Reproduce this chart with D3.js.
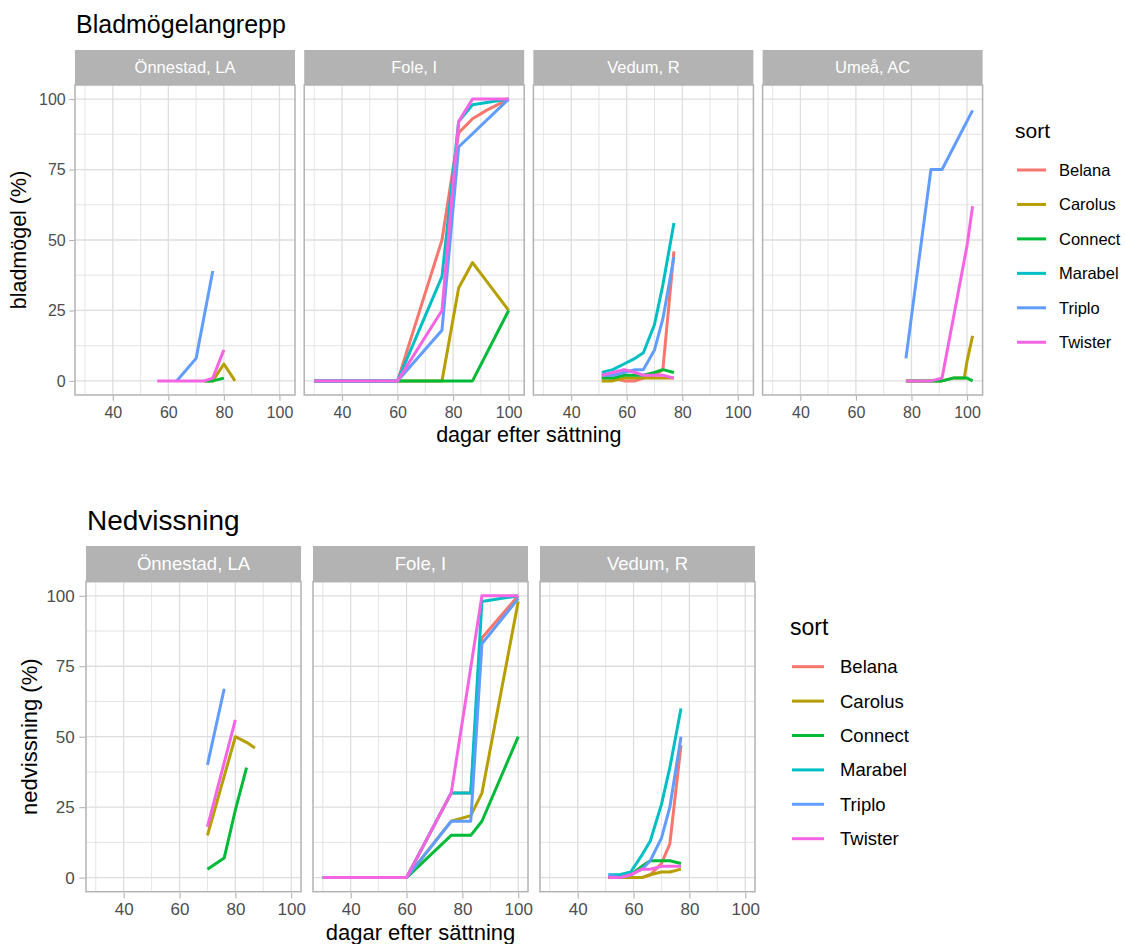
<!DOCTYPE html>
<html>
<head>
<meta charset="utf-8">
<script src="https://cdn.jsdelivr.net/npm/d3@7"></script>
<style>
  body { margin: 0; background: #fff; }
  svg { display: block; }
  text { font-family: "Liberation Sans", Arial, sans-serif; }
</style>
</head>
<body>
<svg id="chart" width="1126" height="944"></svg>
<script>
// Varieties and their colours (default ggplot hue palette)
const varieties = ["Belana", "Carolus", "Connect", "Marabel", "Triplo", "Twister"];
const varietyColors = ["#F8766D", "#B79F00", "#00BA38", "#00BFC4", "#619CFF", "#F564E3"];

// Axis breaks
const xTicks = [40, 60, 80, 100];
const xMinorTicks = [30, 50, 70, 90];
const yTicks = [0, 25, 50, 75, 100];
const yMinorTicks = [12.5, 37.5, 62.5, 87.5];

// ---- Bladmögelangrepp (% leaf blight) ----
const leafSites = ["Önnestad, LA", "Fole, I", "Vedum, R", "Umeå, AC"];

const leafOnnestadDays = [56, 63, 70, 73, 76, 80, 84];
const leafOnnestad = {
  Carolus: [null, null, null, 0, 0, 6, 0],
  Connect: [null, null, null, 0, 0, 1, null],
  Triplo:  [null, 0, 8, null, 39, null, null],
  Twister: [0, 0, 0, 0, 1, 11, null]
};

const leafFoleDays = [30, 60, 76, 82, 87, 92, 100];
const leafFole = {
  Belana:  [0, 0, 50, 88, 93, 96, 100],
  Carolus: [0, 0, 0, 33, 42, null, 25],
  Connect: [0, 0, 0, 0, 0, null, 25],
  Marabel: [0, 0, 37, 92, 98, null, 100],
  Triplo:  [0, 0, 18, 83, null, null, 100],
  Twister: [0, 0, 25, 92, 100, null, 100]
};

const leafVedumDays = [51, 55, 59, 63, 66, 70, 73, 77];
const leafVedum = {
  Belana:  [1, 1, 0, 0, 1, 2, 4, 46],
  Carolus: [0, 0, 1, 1, 1, 1, 1, 1],
  Connect: [1, 1, 2, 2, 2, 3, 4, 3],
  Marabel: [3, 4, 6, 8, 10, 20, 34, 56],
  Triplo:  [2, 2, 3, 4, 4, 11, 22, 44],
  Twister: [2, 3, 4, 3, 2, 2, 2, 1]
};

const leafUmeaDays = [78, 87, 91, 95, 99, 100, 102];
const leafUmea = {
  Carolus: [0, 0, 0, 1, 1, 7, 16],
  Connect: [0, 0, 0, 1, 1, 1, 0],
  Triplo:  [8, 75, 75, null, null, null, 96],
  Twister: [0, 0, 1, null, null, 48, 62]
};

// ---- Nedvissning (% haulm senescence) ----
const witherSites = ["Önnestad, LA", "Fole, I", "Vedum, R"];

const witherOnnestadDays = [70, 76, 80, 84, 87];
const witherOnnestad = {
  Carolus: [15, null, 50, 48, 46],
  Connect: [3, 7, 24, 39, null],
  Triplo:  [40, 67, null, null, null],
  Twister: [18, null, 56, null, null]
};

const witherFoleDays = [30, 60, 76, 83, 87, 100];
const witherFole = {
  Belana:  [0, 0, 30, 30, 85, 100],
  Carolus: [0, 0, 20, 22, 30, 98],
  Connect: [0, 0, 15, 15, 20, 50],
  Marabel: [0, 0, 30, 30, 98, 100],
  Triplo:  [0, 0, 20, 20, 83, 99],
  Twister: [0, 0, 30, null, 100, 100]
};

const witherVedumDays = [51, 55, 59, 63, 66, 70, 73, 77];
const witherVedum = {
  Belana:  [0, 0, 0, 0, 1, 5, 12, 47],
  Carolus: [0, 0, 0, 0, 1, 2, 2, 3],
  Connect: [0, 0, 1, 4, 6, 6, 6, 5],
  Marabel: [1, 1, 2, 8, 13, 26, 39, 60],
  Triplo:  [1, 0, 1, 3, 6, 14, 25, 50],
  Twister: [0, 0, 1, 3, 3, 4, 4, 4]
};

const leafPanels = [
  { site: leafSites[0], days: leafOnnestadDays, values: leafOnnestad },
  { site: leafSites[1], days: leafFoleDays, values: leafFole },
  { site: leafSites[2], days: leafVedumDays, values: leafVedum },
  { site: leafSites[3], days: leafUmeaDays, values: leafUmea }
];
const witherPanels = [
  { site: witherSites[0], days: witherOnnestadDays, values: witherOnnestad },
  { site: witherSites[1], days: witherFoleDays, values: witherFole },
  { site: witherSites[2], days: witherVedumDays, values: witherVedum }
];

const svg = d3.select("#chart");
const GRID = "#dedede", BORDER = "#b3b3b3", TICKTXT = "#4d4d4d";

function drawFacets(cfg) {
  const root = svg.append("g");
  const plotTop = cfg.stripTop + cfg.stripH;
  const plotBottom = plotTop + cfg.plotH;
  const y = d3.scaleLinear().domain([-5, 105]).range([plotBottom, plotTop]);
  const color = d3.scaleOrdinal().domain(varieties).range(varietyColors);

  // title
  root.append("text")
    .attr("x", cfg.titleX).attr("y", cfg.titleY)
    .attr("font-size", cfg.titleSize).attr("fill", "#000")
    .text(cfg.title);

  cfg.panels.forEach((p, i) => {
    const x0 = cfg.left + i * (cfg.panelW + cfg.gap);
    const x = d3.scaleLinear().domain(cfg.xDomain).range([x0, x0 + cfg.panelW]);
    const g = root.append("g");

    // strip
    g.append("rect")
      .attr("x", x0).attr("y", cfg.stripTop)
      .attr("width", cfg.panelW).attr("height", cfg.stripH)
      .attr("fill", "#b3b3b3");
    g.append("text")
      .attr("x", x0 + cfg.panelW / 2)
      .attr("y", cfg.stripTop + cfg.stripH / 2)
      .attr("dy", "0.35em")
      .attr("text-anchor", "middle")
      .attr("font-size", cfg.stripSize)
      .attr("fill", "#ffffff")
      .text(p.site);

    // grid
    const grid = g.append("g");
    grid.selectAll(".vmin").data(xMinorTicks).join("line")
      .attr("x1", d => x(d)).attr("x2", d => x(d))
      .attr("y1", plotTop).attr("y2", plotBottom)
      .attr("stroke", GRID).attr("stroke-width", 0.8);
    grid.selectAll(".hmin").data(yMinorTicks).join("line")
      .attr("x1", x0).attr("x2", x0 + cfg.panelW)
      .attr("y1", d => y(d)).attr("y2", d => y(d))
      .attr("stroke", GRID).attr("stroke-width", 0.8);
    grid.selectAll(".vmaj").data(xTicks).join("line")
      .attr("x1", d => x(d)).attr("x2", d => x(d))
      .attr("y1", plotTop).attr("y2", plotBottom)
      .attr("stroke", GRID).attr("stroke-width", 1.3);
    grid.selectAll(".hmaj").data(yTicks).join("line")
      .attr("x1", x0).attr("x2", x0 + cfg.panelW)
      .attr("y1", d => y(d)).attr("y2", d => y(d))
      .attr("stroke", GRID).attr("stroke-width", 1.3);

    // series lines
    const line = d3.line().x(d => x(d[0])).y(d => y(d[1]));
    varieties.forEach(v => {
      const vals = p.values[v];
      if (!vals) return;
      const pts = p.days.map((d, j) => [d, vals[j]]).filter(q => q[1] != null);
      g.append("path")
        .datum(pts)
        .attr("d", line)
        .attr("fill", "none")
        .attr("stroke", color(v))
        .attr("stroke-width", 3)
        .attr("stroke-linejoin", "round");
    });

    // panel border
    g.append("rect")
      .attr("x", x0).attr("y", plotTop)
      .attr("width", cfg.panelW).attr("height", cfg.plotH)
      .attr("fill", "none").attr("stroke", BORDER).attr("stroke-width", 1.5);

    // x axis
    const xa = g.append("g")
      .attr("transform", `translate(0,${plotBottom + 0.75})`)
      .call(d3.axisBottom(x).tickValues(xTicks).tickSize(cfg.tickLen).tickPadding(cfg.xPad).tickSizeOuter(0));
    xa.select(".domain").remove();
    xa.selectAll("line").attr("stroke", BORDER).attr("stroke-width", 1.1);
    xa.selectAll("text").attr("font-size", cfg.tickSize).attr("fill", TICKTXT)
      .attr("font-family", "Liberation Sans, Arial, sans-serif");

    // y axis on the first panel only
    if (i === 0) {
      const ya = g.append("g")
        .attr("transform", `translate(${x0 - 0.75},0)`)
        .call(d3.axisLeft(y).tickValues(yTicks).tickSize(cfg.tickLen).tickPadding(cfg.yPad).tickSizeOuter(0));
      ya.select(".domain").remove();
      ya.selectAll("line").attr("stroke", BORDER).attr("stroke-width", 1.1);
      ya.selectAll("text").attr("font-size", cfg.tickSize).attr("fill", TICKTXT)
        .attr("font-family", "Liberation Sans, Arial, sans-serif");
    }
  });

  // axis titles
  const right = cfg.left + cfg.panels.length * cfg.panelW + (cfg.panels.length - 1) * cfg.gap;
  root.append("text")
    .attr("x", (cfg.left + right) / 2).attr("y", cfg.xTitleY)
    .attr("text-anchor", "middle").attr("font-size", cfg.axisTitleSize).attr("fill", "#000")
    .text("dagar efter sättning");
  root.append("text")
    .attr("transform", `translate(${cfg.yTitleX},${(plotTop + plotBottom) / 2}) rotate(-90)`)
    .attr("text-anchor", "middle").attr("font-size", cfg.axisTitleSize).attr("fill", "#000")
    .text(cfg.yTitle);

  // legend
  const lg = root.append("g");
  lg.append("text")
    .attr("x", cfg.legendX).attr("y", cfg.legendTitleY)
    .attr("font-size", cfg.legendTitleSize).attr("fill", "#000")
    .text("sort");
  varieties.forEach((v, k) => {
    const yy = cfg.legendY0 + k * cfg.legendStep;
    lg.append("line")
      .attr("x1", cfg.legendX + 2).attr("x2", cfg.legendX + 2 + cfg.keyW)
      .attr("y1", yy).attr("y2", yy)
      .attr("stroke", color(v)).attr("stroke-width", 3);
    lg.append("text")
      .attr("x", cfg.legendLabelX).attr("y", yy).attr("dy", "0.35em")
      .attr("font-size", cfg.legendSize).attr("fill", "#000")
      .text(v);
  });
}

drawFacets({
  title: "Bladmögelangrepp", titleX: 76, titleY: 33, titleSize: 25,
  panels: leafPanels,
  left: 75, panelW: 220, gap: 9.2,
  stripTop: 50, stripH: 35, plotH: 310,
  xDomain: [26.4, 105.6],
  stripSize: 16.5, tickSize: 16, tickLen: 5, xPad: 5.5, yPad: 3.5,
  axisTitleSize: 21.5, xTitleY: 442, yTitleX: 26, yTitle: "bladmögel (%)",
  legendX: 1015, legendTitleY: 138, legendTitleSize: 21,
  legendY0: 170, legendStep: 34.45, keyW: 29, legendLabelX: 1059, legendSize: 16.5
});

drawFacets({
  title: "Nedvissning", titleX: 87, titleY: 530, titleSize: 28,
  panels: witherPanels,
  left: 86, panelW: 215, gap: 12,
  stripTop: 546, stripH: 35.7, plotH: 310,
  xDomain: [26.5, 103.5],
  stripSize: 18.5, tickSize: 17, tickLen: 6, xPad: 4.5, yPad: 4.5,
  axisTitleSize: 22, xTitleY: 940, yTitleX: 37, yTitle: "nedvissning (%)",
  legendX: 790, legendTitleY: 635, legendTitleSize: 23,
  legendY0: 666.7, legendStep: 34.4, keyW: 32, legendLabelX: 840, legendSize: 18.5
});
</script>
</body>
</html>
